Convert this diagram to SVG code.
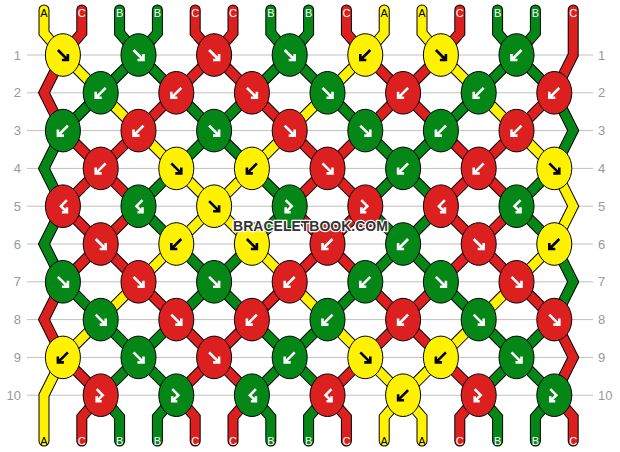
<svg xmlns="http://www.w3.org/2000/svg" xmlns:xlink="http://www.w3.org/1999/xlink" width="620" height="452" viewBox="0 0 620 452">
<style>
.grid line{stroke:#c0c0c0;stroke-width:1}
.rn{font-family:"Liberation Sans",Arial,sans-serif;font-size:13px;fill:#999}
.rl{text-anchor:end}
.o{fill:none;stroke:#000;stroke-width:11;stroke-linecap:round;stroke-linejoin:miter}
.s{fill:none;stroke-width:9;stroke-linecap:round;stroke-linejoin:miter}
.sy{stroke:#fff200}.sr{stroke:#dc1f1f}.sg{stroke:#048716}
.k ellipse{stroke:#000;stroke-width:1}
.ky ellipse{fill:#fff200}.kr ellipse{fill:#dc1f1f}.kg ellipse{fill:#048716}
.k use{fill:none;stroke-width:2.6;stroke-linecap:butt;stroke-linejoin:miter}
.ky use{stroke:#000}.kr use,.kg use{stroke:#fff}
.lb{font-family:"Liberation Sans",Arial,sans-serif;font-size:11px;text-anchor:middle;fill:#fff}
.lb .a{fill:#000}
.wm{font-family:"Liberation Sans",Arial,sans-serif;font-weight:bold;font-size:14px;text-anchor:middle;fill:#333;stroke:#fff;stroke-width:2.5;paint-order:stroke;stroke-linejoin:round}
</style>
<defs>
<path id="af" d="M-5,-5L5,5M5,-1V5H-1"/>
<path id="ab" d="M5,-5L-5,5M-5,-1V5H1"/>
<path id="afb" d="M-4,-6L2,0L-4,6M-4,1V6H1"/>
<path id="abf" d="M4,-6L-2,0L4,6M4,1V6H-1"/>
<path id="s1" d="M44 10V33L62.9 55L403.1 395.2L422 417V441"/>
<path id="s2" d="M81.8 10V33L62.9 55L44 92.8L62.9 130.6L138.5 206.2L62.9 281.8L44 319.6L62.9 357.4L100.7 395.2L81.8 417V441"/>
<path id="s3" d="M119.6 10V33L138.5 55L289.7 206.2L100.7 395.2L119.6 417V441"/>
<path id="s4" d="M157.4 10V33L138.5 55L62.9 130.6L44 168.4L62.9 206.2L44 244L62.9 281.8L176.3 395.2L157.4 417V441"/>
<path id="s5" d="M195.2 10V33L214.1 55L365.3 206.2L176.3 395.2L195.2 417V441"/>
<path id="s6" d="M233 10V33L214.1 55L62.9 206.2L251.9 395.2L233 417V441"/>
<path id="s7" d="M270.8 10V33L289.7 55L440.9 206.2L251.9 395.2L270.8 417V441"/>
<path id="s8" d="M308.6 10V33L289.7 55L138.5 206.2L327.5 395.2L308.6 417V441"/>
<path id="s9" d="M346.4 10V33L365.3 55L516.5 206.2L327.5 395.2L346.4 417V441"/>
<path id="s10" d="M384.2 10V33L365.3 55L62.9 357.4L44 395.2V441"/>
<path id="s11" d="M422 10V33L440.9 55L554.3 168.4L573.2 206.2L554.3 244L403.1 395.2L384.2 417V441"/>
<path id="s12" d="M459.8 10V33L440.9 55L289.7 206.2L478.7 395.2L459.8 417V441"/>
<path id="s13" d="M497.6 10V33L516.5 55L554.3 92.8L573.2 130.6L554.3 168.4L516.5 206.2L554.3 244L573.2 281.8L554.3 319.6L478.7 395.2L497.6 417V441"/>
<path id="s14" d="M535.4 10V33L516.5 55L365.3 206.2L554.3 395.2L535.4 417V441"/>
<path id="s15" d="M573.2 10V55L554.3 92.8L440.9 206.2L554.3 319.6L573.2 357.4L554.3 395.2L573.2 417V441"/>
</defs>
<rect width="620" height="452" fill="#fff"/>
<g id="grid" class="grid">
<line x1="27" y1="55" x2="593" y2="55"/>
<line x1="27" y1="92.8" x2="593" y2="92.8"/>
<line x1="27" y1="130.6" x2="593" y2="130.6"/>
<line x1="27" y1="168.4" x2="593" y2="168.4"/>
<line x1="27" y1="206.2" x2="593" y2="206.2"/>
<line x1="27" y1="244" x2="593" y2="244"/>
<line x1="27" y1="281.8" x2="593" y2="281.8"/>
<line x1="27" y1="319.6" x2="593" y2="319.6"/>
<line x1="27" y1="357.4" x2="593" y2="357.4"/>
<line x1="27" y1="395.2" x2="593" y2="395.2"/>
</g>
<g id="row-numbers" class="rn">
<text class="rl" x="21" y="59.5">1</text><text x="598" y="59.5">1</text>
<text class="rl" x="21" y="97.3">2</text><text x="598" y="97.3">2</text>
<text class="rl" x="21" y="135.1">3</text><text x="598" y="135.1">3</text>
<text class="rl" x="21" y="172.9">4</text><text x="598" y="172.9">4</text>
<text class="rl" x="21" y="210.7">5</text><text x="598" y="210.7">5</text>
<text class="rl" x="21" y="248.5">6</text><text x="598" y="248.5">6</text>
<text class="rl" x="21" y="286.3">7</text><text x="598" y="286.3">7</text>
<text class="rl" x="21" y="324.1">8</text><text x="598" y="324.1">8</text>
<text class="rl" x="21" y="361.9">9</text><text x="598" y="361.9">9</text>
<text class="rl" x="21" y="399.7">10</text><text x="598" y="399.7">10</text>
</g>
<g id="strings">
<use href="#s1" class="o"/><use href="#s2" class="o"/><use href="#s3" class="o"/><use href="#s4" class="o"/><use href="#s5" class="o"/>
<use href="#s6" class="o"/><use href="#s7" class="o"/><use href="#s8" class="o"/><use href="#s9" class="o"/><use href="#s10" class="o"/>
<use href="#s11" class="o"/><use href="#s12" class="o"/><use href="#s13" class="o"/><use href="#s14" class="o"/><use href="#s15" class="o"/>
<use href="#s1" class="s sy"/><use href="#s2" class="s sr"/><use href="#s3" class="s sg"/><use href="#s4" class="s sg"/><use href="#s5" class="s sr"/>
<use href="#s6" class="s sr"/><use href="#s7" class="s sg"/><use href="#s8" class="s sg"/><use href="#s9" class="s sr"/><use href="#s10" class="s sy"/>
<use href="#s11" class="s sy"/><use href="#s12" class="s sr"/><use href="#s13" class="s sg"/><use href="#s14" class="s sg"/><use href="#s15" class="s sr"/>
</g>
<g id="knots">
<g id="k1-1" class="k ky" transform="translate(62.9,55)"><ellipse rx="17.5" ry="21.3"/><use href="#af"/></g>
<g id="k1-2" class="k kg" transform="translate(138.5,55)"><ellipse rx="17.5" ry="21.3"/><use href="#af"/></g>
<g id="k1-3" class="k kr" transform="translate(214.1,55)"><ellipse rx="17.5" ry="21.3"/><use href="#af"/></g>
<g id="k1-4" class="k kg" transform="translate(289.7,55)"><ellipse rx="17.5" ry="21.3"/><use href="#af"/></g>
<g id="k1-5" class="k ky" transform="translate(365.3,55)"><ellipse rx="17.5" ry="21.3"/><use href="#ab"/></g>
<g id="k1-6" class="k ky" transform="translate(440.9,55)"><ellipse rx="17.5" ry="21.3"/><use href="#af"/></g>
<g id="k1-7" class="k kg" transform="translate(516.5,55)"><ellipse rx="17.5" ry="21.3"/><use href="#ab"/></g>

<g id="k2-1" class="k kg" transform="translate(100.7,92.8)"><ellipse rx="17.5" ry="21.3"/><use href="#ab"/></g>
<g id="k2-2" class="k kr" transform="translate(176.3,92.8)"><ellipse rx="17.5" ry="21.3"/><use href="#ab"/></g>
<g id="k2-3" class="k kr" transform="translate(251.9,92.8)"><ellipse rx="17.5" ry="21.3"/><use href="#af"/></g>
<g id="k2-4" class="k kg" transform="translate(327.5,92.8)"><ellipse rx="17.5" ry="21.3"/><use href="#af"/></g>
<g id="k2-5" class="k kr" transform="translate(403.1,92.8)"><ellipse rx="17.5" ry="21.3"/><use href="#ab"/></g>
<g id="k2-6" class="k kg" transform="translate(478.7,92.8)"><ellipse rx="17.5" ry="21.3"/><use href="#ab"/></g>
<g id="k2-7" class="k kr" transform="translate(554.3,92.8)"><ellipse rx="17.5" ry="21.3"/><use href="#ab"/></g>

<g id="k3-1" class="k kg" transform="translate(62.9,130.6)"><ellipse rx="17.5" ry="21.3"/><use href="#ab"/></g>
<g id="k3-2" class="k kr" transform="translate(138.5,130.6)"><ellipse rx="17.5" ry="21.3"/><use href="#ab"/></g>
<g id="k3-3" class="k kg" transform="translate(214.1,130.6)"><ellipse rx="17.5" ry="21.3"/><use href="#af"/></g>
<g id="k3-4" class="k kr" transform="translate(289.7,130.6)"><ellipse rx="17.5" ry="21.3"/><use href="#af"/></g>
<g id="k3-5" class="k kg" transform="translate(365.3,130.6)"><ellipse rx="17.5" ry="21.3"/><use href="#af"/></g>
<g id="k3-6" class="k kg" transform="translate(440.9,130.6)"><ellipse rx="17.5" ry="21.3"/><use href="#ab"/></g>
<g id="k3-7" class="k kr" transform="translate(516.5,130.6)"><ellipse rx="17.5" ry="21.3"/><use href="#ab"/></g>

<g id="k4-1" class="k kr" transform="translate(100.7,168.4)"><ellipse rx="17.5" ry="21.3"/><use href="#ab"/></g>
<g id="k4-2" class="k ky" transform="translate(176.3,168.4)"><ellipse rx="17.5" ry="21.3"/><use href="#af"/></g>
<g id="k4-3" class="k ky" transform="translate(251.9,168.4)"><ellipse rx="17.5" ry="21.3"/><use href="#ab"/></g>
<g id="k4-4" class="k kr" transform="translate(327.5,168.4)"><ellipse rx="17.5" ry="21.3"/><use href="#af"/></g>
<g id="k4-5" class="k kg" transform="translate(403.1,168.4)"><ellipse rx="17.5" ry="21.3"/><use href="#ab"/></g>
<g id="k4-6" class="k kr" transform="translate(478.7,168.4)"><ellipse rx="17.5" ry="21.3"/><use href="#ab"/></g>
<g id="k4-7" class="k ky" transform="translate(554.3,168.4)"><ellipse rx="17.5" ry="21.3"/><use href="#af"/></g>

<g id="k5-1" class="k kr" transform="translate(62.9,206.2)"><ellipse rx="17.5" ry="21.3"/><use href="#abf"/></g>
<g id="k5-2" class="k kg" transform="translate(138.5,206.2)"><ellipse rx="17.5" ry="21.3"/><use href="#abf"/></g>
<g id="k5-3" class="k ky" transform="translate(214.1,206.2)"><ellipse rx="17.5" ry="21.3"/><use href="#af"/></g>
<g id="k5-4" class="k kg" transform="translate(289.7,206.2)"><ellipse rx="17.5" ry="21.3"/><use href="#afb"/></g>
<g id="k5-5" class="k kr" transform="translate(365.3,206.2)"><ellipse rx="17.5" ry="21.3"/><use href="#afb"/></g>
<g id="k5-6" class="k kr" transform="translate(440.9,206.2)"><ellipse rx="17.5" ry="21.3"/><use href="#abf"/></g>
<g id="k5-7" class="k kg" transform="translate(516.5,206.2)"><ellipse rx="17.5" ry="21.3"/><use href="#abf"/></g>

<g id="k6-1" class="k kr" transform="translate(100.7,244)"><ellipse rx="17.5" ry="21.3"/><use href="#af"/></g>
<g id="k6-2" class="k ky" transform="translate(176.3,244)"><ellipse rx="17.5" ry="21.3"/><use href="#ab"/></g>
<g id="k6-3" class="k ky" transform="translate(251.9,244)"><ellipse rx="17.5" ry="21.3"/><use href="#af"/></g>
<g id="k6-4" class="k kr" transform="translate(327.5,244)"><ellipse rx="17.5" ry="21.3"/><use href="#ab"/></g>
<g id="k6-5" class="k kg" transform="translate(403.1,244)"><ellipse rx="17.5" ry="21.3"/><use href="#ab"/></g>
<g id="k6-6" class="k kr" transform="translate(478.7,244)"><ellipse rx="17.5" ry="21.3"/><use href="#af"/></g>
<g id="k6-7" class="k ky" transform="translate(554.3,244)"><ellipse rx="17.5" ry="21.3"/><use href="#ab"/></g>

<g id="k7-1" class="k kg" transform="translate(62.9,281.8)"><ellipse rx="17.5" ry="21.3"/><use href="#af"/></g>
<g id="k7-2" class="k kr" transform="translate(138.5,281.8)"><ellipse rx="17.5" ry="21.3"/><use href="#af"/></g>
<g id="k7-3" class="k kg" transform="translate(214.1,281.8)"><ellipse rx="17.5" ry="21.3"/><use href="#af"/></g>
<g id="k7-4" class="k kr" transform="translate(289.7,281.8)"><ellipse rx="17.5" ry="21.3"/><use href="#ab"/></g>
<g id="k7-5" class="k kg" transform="translate(365.3,281.8)"><ellipse rx="17.5" ry="21.3"/><use href="#ab"/></g>
<g id="k7-6" class="k kg" transform="translate(440.9,281.8)"><ellipse rx="17.5" ry="21.3"/><use href="#af"/></g>
<g id="k7-7" class="k kr" transform="translate(516.5,281.8)"><ellipse rx="17.5" ry="21.3"/><use href="#af"/></g>

<g id="k8-1" class="k kg" transform="translate(100.7,319.6)"><ellipse rx="17.5" ry="21.3"/><use href="#af"/></g>
<g id="k8-2" class="k kr" transform="translate(176.3,319.6)"><ellipse rx="17.5" ry="21.3"/><use href="#af"/></g>
<g id="k8-3" class="k kr" transform="translate(251.9,319.6)"><ellipse rx="17.5" ry="21.3"/><use href="#ab"/></g>
<g id="k8-4" class="k kg" transform="translate(327.5,319.6)"><ellipse rx="17.5" ry="21.3"/><use href="#ab"/></g>
<g id="k8-5" class="k kr" transform="translate(403.1,319.6)"><ellipse rx="17.5" ry="21.3"/><use href="#ab"/></g>
<g id="k8-6" class="k kg" transform="translate(478.7,319.6)"><ellipse rx="17.5" ry="21.3"/><use href="#af"/></g>
<g id="k8-7" class="k kr" transform="translate(554.3,319.6)"><ellipse rx="17.5" ry="21.3"/><use href="#af"/></g>

<g id="k9-1" class="k ky" transform="translate(62.9,357.4)"><ellipse rx="17.5" ry="21.3"/><use href="#ab"/></g>
<g id="k9-2" class="k kg" transform="translate(138.5,357.4)"><ellipse rx="17.5" ry="21.3"/><use href="#af"/></g>
<g id="k9-3" class="k kr" transform="translate(214.1,357.4)"><ellipse rx="17.5" ry="21.3"/><use href="#af"/></g>
<g id="k9-4" class="k kg" transform="translate(289.7,357.4)"><ellipse rx="17.5" ry="21.3"/><use href="#ab"/></g>
<g id="k9-5" class="k ky" transform="translate(365.3,357.4)"><ellipse rx="17.5" ry="21.3"/><use href="#af"/></g>
<g id="k9-6" class="k ky" transform="translate(440.9,357.4)"><ellipse rx="17.5" ry="21.3"/><use href="#ab"/></g>
<g id="k9-7" class="k kg" transform="translate(516.5,357.4)"><ellipse rx="17.5" ry="21.3"/><use href="#af"/></g>

<g id="k10-1" class="k kr" transform="translate(100.7,395.2)"><ellipse rx="17.5" ry="21.3"/><use href="#afb"/></g>
<g id="k10-2" class="k kg" transform="translate(176.3,395.2)"><ellipse rx="17.5" ry="21.3"/><use href="#afb"/></g>
<g id="k10-3" class="k kg" transform="translate(251.9,395.2)"><ellipse rx="17.5" ry="21.3"/><use href="#abf"/></g>
<g id="k10-4" class="k kr" transform="translate(327.5,395.2)"><ellipse rx="17.5" ry="21.3"/><use href="#abf"/></g>
<g id="k10-5" class="k ky" transform="translate(403.1,395.2)"><ellipse rx="17.5" ry="21.3"/><use href="#ab"/></g>
<g id="k10-6" class="k kr" transform="translate(478.7,395.2)"><ellipse rx="17.5" ry="21.3"/><use href="#afb"/></g>
<g id="k10-7" class="k kg" transform="translate(554.3,395.2)"><ellipse rx="17.5" ry="21.3"/><use href="#afb"/></g>
</g>
<g id="labels" class="lb">
<text class="a" x="44" y="16.5">A</text><text x="81.8" y="16.5">C</text><text x="119.6" y="16.5">B</text><text x="157.4" y="16.5">B</text><text x="195.2" y="16.5">C</text><text x="233" y="16.5">C</text><text x="270.8" y="16.5">B</text><text x="308.6" y="16.5">B</text><text x="346.4" y="16.5">C</text><text class="a" x="384.2" y="16.5">A</text><text class="a" x="422" y="16.5">A</text><text x="459.8" y="16.5">C</text><text x="497.6" y="16.5">B</text><text x="535.4" y="16.5">B</text><text x="573.2" y="16.5">C</text>
<text class="a" x="44" y="444.5">A</text><text x="81.8" y="444.5">C</text><text x="119.6" y="444.5">B</text><text x="157.4" y="444.5">B</text><text x="195.2" y="444.5">C</text><text x="233" y="444.5">C</text><text x="270.8" y="444.5">B</text><text x="308.6" y="444.5">B</text><text x="346.4" y="444.5">C</text><text class="a" x="384.2" y="444.5">A</text><text class="a" x="422" y="444.5">A</text><text x="459.8" y="444.5">C</text><text x="497.6" y="444.5">B</text><text x="535.4" y="444.5">B</text><text x="573.2" y="444.5">C</text>
</g>
<text id="watermark" class="wm" x="310.5" y="231">BRACELETBOOK.COM</text>
</svg>
